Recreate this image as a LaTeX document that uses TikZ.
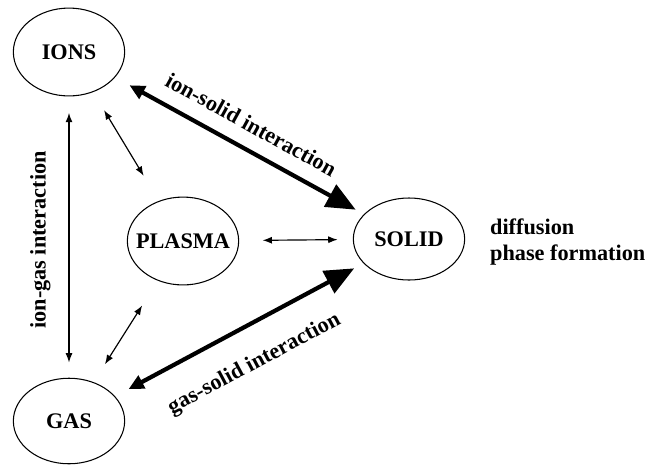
\documentclass[tikz,border=0pt]{standalone}
\usepackage{fontspec}
\setmainfont{Liberation Serif}
\usetikzlibrary{arrows.meta, shapes.geometric}

\begin{document}
\begin{tikzpicture}[
    x=0.03cm, y=-0.03cm,
    blob/.style={ellipse, draw, line width=0.9pt, minimum width=95pt, minimum height=75pt,
                 inner xsep=-10pt, inner ysep=0pt, font=\fontsize{19}{22}\selectfont\bfseries},
    link/.style={{Latex[length=8pt,width=6pt]}-{Latex[length=8pt,width=6pt]}, line width=1pt},
    bigarrow/.style={{Triangle[length=13pt,width=12pt]}-{Triangle[length=25pt,width=21pt]}, line width=3.6pt},
    lbl/.style={font=\fontsize{19}{22}\selectfont\bfseries}
]
\useasboundingbox (0,0) rectangle (649,465);

% The four species
\node[blob] (ions) at (69, 52) {IONS};
\node[blob] (plasma) at (183, 241) {PLASMA};
\node[blob, minimum height=70pt] (solid) at (409, 239) {SOLID};
\node[blob, minimum height=73pt] (gas) at (69, 421) {GAS};

% Plasma exchange
\draw[link, shorten <=18pt, shorten >=25pt] (ions) -- (plasma);
\draw[link, shorten <=18pt, shorten >=25pt] (gas) -- (plasma);
\draw[link, shorten <=20pt, shorten >=13pt] (plasma) -- (solid);

% Interactions
\draw[link, shorten <=13pt, shorten >=14pt] (gas) -- node[sloped, above=12pt, pos=0.49, lbl] {ion-gas interaction} (ions);
\draw[bigarrow, shorten <=14pt, shorten >=8pt] (ions) -- node[sloped, above=9pt, pos=0.5, lbl] {ion-solid interaction} (solid);
\draw[bigarrow, shorten <=13pt, shorten >=9pt] (gas) -- node[sloped, below=18pt, pos=0.49, lbl] {gas-solid interaction} (solid);

% Processes in the solid
\node[lbl, anchor=west, align=left] (proc) at (486, 242) {diffusion\\phase formation};

\end{tikzpicture}
\end{document}
